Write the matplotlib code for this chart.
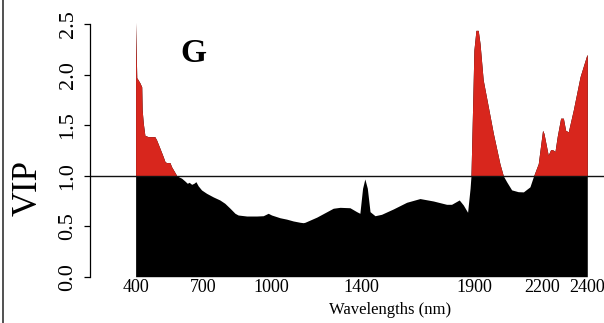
import numpy as np
import matplotlib
matplotlib.use('Agg')
import matplotlib.pyplot as plt
from matplotlib.patches import Rectangle
from matplotlib.lines import Line2D

plt.rcParams['font.family'] = ['Liberation Serif', 'DejaVu Serif']

# VIP scores along the spectrum
wavelength = [400, 402, 405, 407, 419, 427, 429, 434, 441, 456, 485, 493, 508, 522,
              530, 537, 552, 559, 578, 582, 604, 618, 629, 637, 648, 658, 667, 677,
              692, 714, 744, 773, 795, 818, 840, 854, 892, 936, 965, 987, 1002, 1039,
              1069, 1098, 1128, 1142, 1150, 1202, 1275, 1305, 1349, 1379, 1393, 1405,
              1415, 1426, 1438, 1460, 1489, 1541, 1600, 1659, 1718, 1777, 1799, 1833,
              1851, 1870, 1881, 1885, 1893, 1898, 1907, 1917, 1925, 1939, 1962, 1984,
              2013, 2028, 2043, 2065, 2094, 2117, 2146, 2161, 2183, 2202, 2208, 2227,
              2238, 2249, 2257, 2267, 2282, 2294, 2304, 2316, 2338, 2368, 2397, 2400]
vip = [2.52, 2.30, 1.97, 1.965, 1.92, 1.88, 1.65, 1.52, 1.40, 1.387, 1.387, 1.354,
       1.27, 1.19, 1.14, 1.13, 1.13, 1.09, 1.017, 1.0, 0.975, 0.948, 0.925, 0.935,
       0.915, 0.925, 0.941, 0.90, 0.859, 0.826, 0.79, 0.76, 0.727, 0.678, 0.628,
       0.611, 0.601, 0.601, 0.604, 0.628, 0.611, 0.584, 0.57, 0.552, 0.539, 0.535,
       0.539, 0.59, 0.678, 0.687, 0.683, 0.644, 0.628, 0.876, 0.968, 0.876, 0.644,
       0.604, 0.618, 0.671, 0.737, 0.774, 0.75, 0.717, 0.717, 0.76, 0.71, 0.638,
       0.876, 1.0, 1.75, 2.245, 2.44, 2.44, 2.31, 1.95, 1.68, 1.42, 1.12, 1.0, 0.94,
       0.86, 0.842, 0.84, 0.89, 0.99, 1.12, 1.45, 1.42, 1.205, 1.26, 1.255, 1.24,
       1.39, 1.57, 1.57, 1.45, 1.435, 1.65, 1.98, 2.19, 2.2]

xtick_vals = [400, 700, 1000, 1400, 1900, 2200, 2400]
ytick_vals = [0.0, 0.5, 1.0, 1.5, 2.0, 2.5]
threshold = 1.0

fig = plt.figure(figsize=(6.04, 3.23), dpi=100)
ax = fig.add_axes([90 / 604, 46.3 / 323, 514 / 604, 262.5 / 323])

# black below the threshold, red above it
ax.fill_between(wavelength, 0, vip, color='black', lw=0)
red = ax.fill_between(wavelength, 0, vip, color='#d8261d', lw=0)
clip = Rectangle((0, threshold), 5000, 10, transform=ax.transData)
red.set_clip_path(clip)
ax.axhline(threshold, color='#111111', lw=1.0)

ax.set_xlim(198, 2474)
ax.set_ylim(0, 2.6)

for side in ['top', 'right', 'bottom']:
    ax.spines[side].set_visible(False)
ax.spines['left'].set_bounds(0, 2.5)
ax.spines['left'].set_linewidth(0.9)

ax.set_yticks(ytick_vals)
ax.set_yticklabels(['%.1f' % t for t in ytick_vals], rotation=90, va='center', fontsize=16)
ax.tick_params(axis='y', length=4, width=0.9, pad=5)

ax.set_xticks(xtick_vals)
ax.set_xticklabels([str(t) for t in xtick_vals], fontsize=13)
ax.tick_params(axis='x', length=0, pad=1.5)

fig.text(28 / 604, 1 - 188 / 323, 'VIP', rotation=90, fontsize=25, ha='center', va='center')
fig.text(390 / 604, 1 - 310 / 323, 'Wavelengths (nm)', fontsize=12, ha='center', va='center')
fig.text(193.5 / 604, 1 - 53 / 323, 'G', fontsize=24, fontweight='bold', ha='center', va='center')

fig.add_artist(Line2D([2.5 / 604, 2.5 / 604], [0, 1], color='#333333', lw=1.2))

fig.savefig('out.png', dpi=100)
